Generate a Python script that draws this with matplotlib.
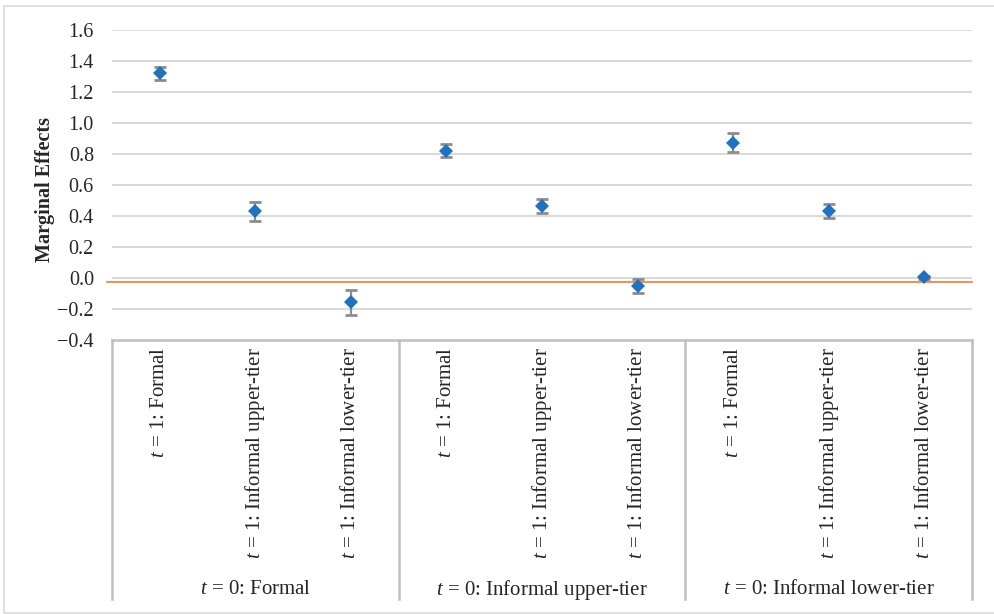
import matplotlib
matplotlib.use("Agg")
import matplotlib.pyplot as plt
from matplotlib.patches import Rectangle

plt.rcParams['font.family'] = ['Liberation Serif', 'DejaVu Serif']
plt.rcParams['mathtext.fontset'] = 'custom'
plt.rcParams['mathtext.rm'] = 'Liberation Serif'
plt.rcParams['mathtext.it'] = 'Liberation Serif:italic'
plt.rcParams['axes.unicode_minus'] = True

# data
groups = [r'$t$ = 0: Formal', r'$t$ = 0: Informal upper-tier', r'$t$ = 0: Informal lower-tier']
categories = [r'$t$ = 1: Formal', r'$t$ = 1: Informal upper-tier', r'$t$ = 1: Informal lower-tier']
effects = [1.32, 0.43, -0.157, 0.82, 0.465, -0.049, 0.873, 0.434, 0.004]
errors = [0.043, 0.06, 0.08, 0.042, 0.045, 0.045, 0.063, 0.045, 0.01]
ref_line = -0.025
yticks = [-0.4, -0.2, 0.0, 0.2, 0.4, 0.6, 0.8, 1.0, 1.2, 1.4, 1.6]

W, H = 994, 614
fig = plt.figure(figsize=(W / 100, H / 100), dpi=100)
ax = fig.add_axes([112 / W, 1 - 340 / H, (972 - 112) / W, 310 / H])

n = len(groups) * len(categories)
x = list(range(n))
ax.errorbar(x, effects, yerr=errors, fmt='none', ecolor='#8c8c8c',
            elinewidth=1.6, capsize=4.6, capthick=2.0, zorder=3)
ax.plot(x, effects, 'D', color='#1f72bf', markersize=7.6, markeredgewidth=0, zorder=4)

ax.set_xlim(-0.5, n - 0.5)
ax.set_ylim(-0.4, 1.6)
ax.set_yticks(yticks)
ax.set_yticklabels([f'{v:.1f}'.replace('-', '\u2212') for v in yticks])
ax.tick_params(axis='y', length=0, pad=13, labelsize=14.5, labelcolor='#262626')
ax.set_xticks([])
for s in ax.spines.values():
    s.set_visible(False)
for v in yticks[1:]:
    ax.axhline(v, color='#d9d9d9', lw=1.4, zorder=1)

# orange reference line, slightly past the left edge
ax.plot([-0.006, 1.0], [ref_line, ref_line], color='#ed7d31', lw=1.2,
        transform=ax.get_yaxis_transform(), clip_on=False, zorder=2)

# category axis box
tr = ax.get_xaxis_transform()
box_c = '#bfbfbf'
bottom = -(599 - 340) / 310
ax.plot([-0.5, n - 0.5], [0, 0], color=box_c, lw=1.8, transform=tr, clip_on=False)
for b in range(len(groups) + 1):
    xb = b * len(categories) - 0.5
    ax.plot([xb, xb], [0, bottom], color=box_c, lw=1.8, transform=tr, clip_on=False)

for i in x:
    ax.text(i, -7 / 310, categories[i % len(categories)], rotation=90, ha='center', va='top',
            fontsize=15, color='#262626', transform=tr)
for g, name in enumerate(groups):
    xc = g * len(categories) + (len(categories) - 1) / 2
    ax.text(xc, -(590 - 340) / 310, name, ha='center', va='center',
            fontsize=15, color='#262626', transform=tr)

fig.text(45 / W, 1 - 190 / H, 'Marginal Effects', rotation=90, ha='center', va='center',
         fontsize=14.5, fontweight='bold', color='#262626')

fig.patches.append(Rectangle((4 / W, 1 - 613 / H), 1.1, (613 - 6) / H, transform=fig.transFigure,
                             fill=False, edgecolor='#d9d9d9', lw=1.2))

fig.savefig('out.png', dpi=100)
